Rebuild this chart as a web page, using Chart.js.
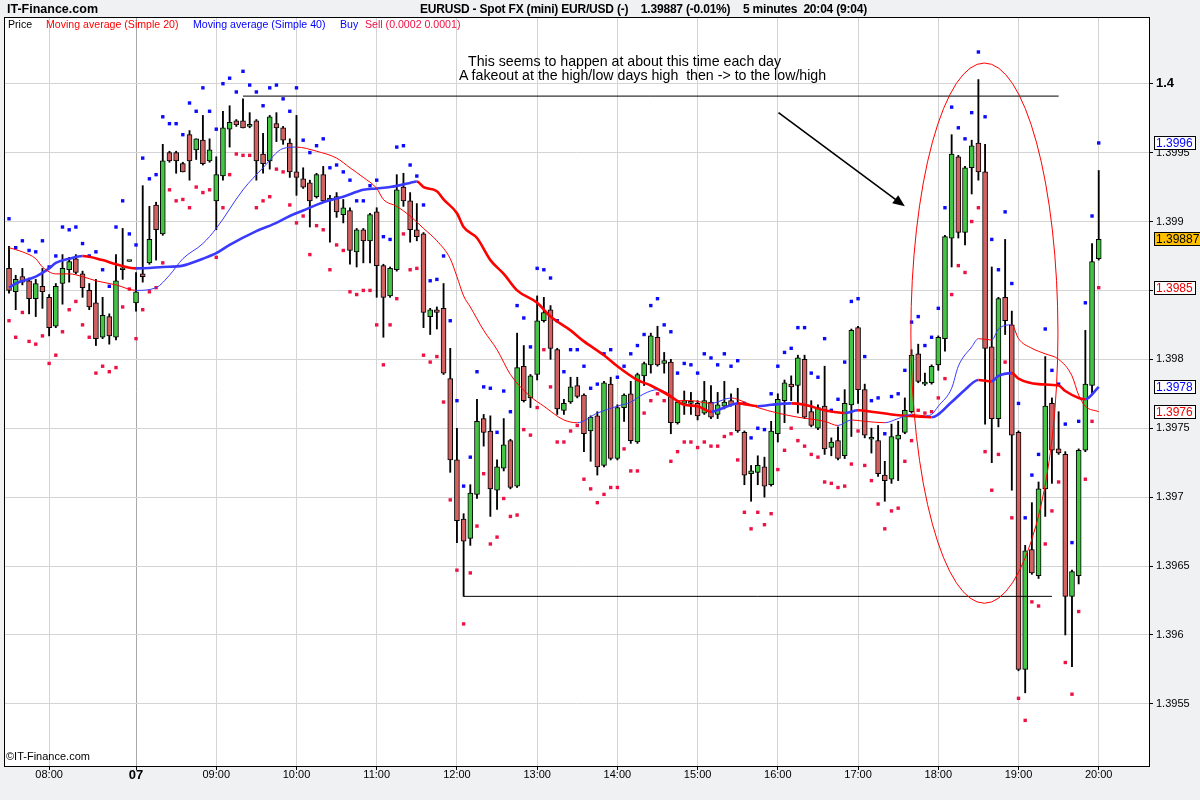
<!DOCTYPE html>
<html>
<head>
<meta charset="utf-8">
<script src="https://cdn.jsdelivr.net/npm/chart.js@4.4.1/dist/chart.umd.min.js"></script>
<style>
  body { margin: 0; background: #f0f1f3; width: 1200px; height: 800px; overflow: hidden; position: relative;
         font-family: "Liberation Sans", Arial, sans-serif; }
  #wrap { position: absolute; left: 0; top: 0; width: 1200px; height: 800px; }
  .t { position: absolute; white-space: pre; line-height: 1; }
  .lg { top: 19px; font-size: 10.6px; }
  .note { font-size: 14.2px; }
</style>
</head>
<body>
<div id="wrap"><canvas id="chart" width="1200" height="800"></canvas></div>

<div class="t" style="left:7px;top:3px;font-size:12.5px;font-weight:bold;">IT-Finance.com</div>
<div class="t" style="left:420px;top:3px;font-size:12px;font-weight:bold;letter-spacing:-0.2px;">EURUSD - Spot FX (mini) EUR/USD (-)    1.39887 (-0.01%)    5 minutes  20:04 (9:04)</div>

<div class="t lg" style="left:8px;color:#000;">Price</div>
<div class="t lg" style="left:46px;color:#ff0000;">Moving average (Simple 20)</div>
<div class="t lg" style="left:193px;color:#0000ff;">Moving average (Simple 40)</div>
<div class="t lg" style="left:340px;color:#0000ff;">Buy</div>
<div class="t lg" style="left:365px;color:#ee1144;">Sell (0.0002 0.0001)</div>

<div class="t note" style="left:468px;top:54px;">This seems to happen at about this time each day</div>
<div class="t note" style="left:459px;top:68px;">A fakeout at the high/low days high  then -&gt; to the low/high</div>

<div class="t" style="left:6px;top:751px;font-size:11px;">©IT-Finance.com</div>

<script>
// 5 minute bars, EUR/USD
var opens = [1.39866,1.39849,1.39860,1.39857,1.39844,1.39853,1.39845,1.39824,1.39855,1.39865,
  1.39873,1.39862,1.39850,1.39841,1.39816,1.39831,1.39816,1.39865,1.39871,1.39841,
  1.39862,1.39870,1.39912,1.39891,1.39950,1.39950,1.39942,1.39963,1.39952,1.39959,
  1.39944,1.39915,1.39933,1.39967,1.39973,1.39973,1.39969,1.39973,1.39949,1.39944,
  1.39971,1.39968,1.39957,1.39936,1.39931,1.39928,1.39918,1.39934,1.39915,1.39918,
  1.39905,1.39908,1.39878,1.39894,1.39886,1.39907,1.39868,1.39846,1.39865,1.39925,
  1.39915,1.39894,1.39891,1.39831,1.39836,1.39837,1.39786,1.39727,1.39684,1.39670,
  1.39702,1.39757,1.39748,1.39705,1.39721,1.39741,1.39708,1.39795,1.39772,1.39789,
  1.39828,1.39836,1.39807,1.39763,1.39769,1.39781,1.39774,1.39748,1.39759,1.39723,
  1.39782,1.39728,1.39765,1.39775,1.39740,1.39788,1.39796,1.39816,1.39797,1.39798,
  1.39754,1.39768,1.39768,1.39768,1.39761,1.39769,1.39760,1.39766,1.39770,1.39768,
  1.39747,1.39717,1.39718,1.39722,1.39709,1.39746,1.39770,1.39782,1.39781,1.39800,
  1.39762,1.39750,1.39766,1.39736,1.39741,1.39730,1.39767,1.39823,1.39778,1.39742,
  1.39741,1.39716,1.39713,1.39742,1.39747,1.39762,1.39804,1.39782,1.39783,1.39796,
  1.39815,1.39888,1.39947,1.39892,1.39939,1.39957,1.39936,1.39809,1.39757,1.39845,
  1.39825,1.39747,1.39575,1.39662,1.39643,1.39706,1.39768,1.39735,1.39731,1.39628,
  1.39643,1.39734,1.39781,1.39873];
var highs = [1.39882,1.39861,1.39866,1.39859,1.39858,1.39866,1.39847,1.39855,1.39876,1.39874,
  1.39876,1.39864,1.39855,1.39858,1.39845,1.39833,1.39876,1.39895,1.39871,1.39863,
  1.39926,1.39911,1.39914,1.39956,1.39951,1.39951,1.39943,1.39966,1.39960,1.39977,
  1.39960,1.39947,1.39980,1.39984,1.39974,1.39989,1.39979,1.39974,1.39964,1.39977,
  1.39979,1.39969,1.39960,1.39977,1.39939,1.39930,1.39935,1.39940,1.39919,1.39921,
  1.39916,1.39910,1.39895,1.39895,1.39906,1.39910,1.39869,1.39867,1.39934,1.39935,
  1.39921,1.39913,1.39892,1.39837,1.39838,1.39855,1.39808,1.39750,1.39688,1.39709,
  1.39771,1.39760,1.39759,1.39727,1.39757,1.39742,1.39819,1.39810,1.39789,1.39846,
  1.39845,1.39839,1.39808,1.39771,1.39787,1.39787,1.39775,1.39759,1.39762,1.39784,
  1.39787,1.39767,1.39775,1.39784,1.39790,1.39798,1.39819,1.39824,1.39805,1.39800,
  1.39770,1.39777,1.39776,1.39770,1.39784,1.39781,1.39776,1.39784,1.39775,1.39779,
  1.39748,1.39723,1.39730,1.39729,1.39755,1.39775,1.39785,1.39788,1.39803,1.39803,
  1.39770,1.39767,1.39795,1.39743,1.39751,1.39778,1.39822,1.39824,1.39782,1.39750,
  1.39752,1.39726,1.39753,1.39755,1.39772,1.39807,1.39811,1.39790,1.39796,1.39817,
  1.39890,1.39963,1.39948,1.39940,1.39959,1.40003,1.39956,1.39867,1.39845,1.39887,
  1.39835,1.39748,1.39665,1.39696,1.39711,1.39802,1.39772,1.39762,1.39733,1.39647,
  1.39735,1.39821,1.39884,1.39937];
var lows = [1.39848,1.39836,1.39854,1.39833,1.39831,1.39837,1.39817,1.39823,1.39840,1.39856,
  1.39862,1.39845,1.39836,1.39810,1.39815,1.39811,1.39814,1.39858,1.39871,1.39835,
  1.39856,1.39869,1.39872,1.39890,1.39943,1.39935,1.39936,1.39930,1.39945,1.39941,
  1.39943,1.39894,1.39930,1.39954,1.39969,1.39968,1.39968,1.39930,1.39935,1.39938,
  1.39958,1.39956,1.39932,1.39919,1.39924,1.39896,1.39917,1.39914,1.39885,1.39903,
  1.39899,1.39869,1.39867,1.39870,1.39870,1.39845,1.39816,1.39845,1.39864,1.39911,
  1.39885,1.39886,1.39823,1.39818,1.39822,1.39789,1.39718,1.39667,1.39628,1.39665,
  1.39699,1.39737,1.39686,1.39691,1.39719,1.39706,1.39707,1.39769,1.39765,1.39785,
  1.39827,1.39800,1.39760,1.39760,1.39768,1.39772,1.39733,1.39726,1.39716,1.39722,
  1.39727,1.39727,1.39755,1.39739,1.39739,1.39781,1.39790,1.39795,1.39790,1.39746,
  1.39753,1.39760,1.39760,1.39756,1.39760,1.39757,1.39757,1.39764,1.39766,1.39747,
  1.39709,1.39697,1.39709,1.39700,1.39708,1.39740,1.39754,1.39770,1.39761,1.39757,
  1.39751,1.39749,1.39731,1.39730,1.39727,1.39728,1.39744,1.39768,1.39743,1.39732,
  1.39715,1.39697,1.39710,1.39712,1.39746,1.39761,1.39783,1.39781,1.39782,1.39792,
  1.39806,1.39867,1.39888,1.39883,1.39920,1.39930,1.39753,1.39725,1.39751,1.39818,
  1.39705,1.39574,1.39558,1.39644,1.39641,1.39686,1.39710,1.39731,1.39600,1.39577,
  1.39637,1.39733,1.39775,1.39872];
var closes = [1.39850,1.39858,1.39856,1.39844,1.39855,1.39849,1.39823,1.39853,1.39866,1.39871,
  1.39863,1.39852,1.39838,1.39815,1.39832,1.39817,1.39857,1.39866,1.39871,1.39849,
  1.39860,1.39887,1.39894,1.39944,1.39944,1.39944,1.39936,1.39944,1.39960,1.39942,
  1.39952,1.39934,1.39968,1.39972,1.39970,1.39968,1.39970,1.39944,1.39942,1.39976,
  1.39968,1.39959,1.39936,1.39932,1.39925,1.39915,1.39934,1.39915,1.39917,1.39907,
  1.39910,1.39879,1.39894,1.39886,1.39905,1.39868,1.39845,1.39866,1.39923,1.39915,
  1.39894,1.39889,1.39834,1.39836,1.39834,1.39790,1.39727,1.39683,1.39668,1.39703,
  1.39755,1.39747,1.39706,1.39722,1.39738,1.39707,1.39794,1.39770,1.39788,1.39828,
  1.39834,1.39808,1.39764,1.39768,1.39780,1.39773,1.39746,1.39758,1.39722,1.39783,
  1.39728,1.39765,1.39774,1.39741,1.39789,1.39797,1.39817,1.39796,1.39799,1.39754,
  1.39769,1.39770,1.39769,1.39759,1.39770,1.39758,1.39767,1.39769,1.39767,1.39748,
  1.39716,1.39719,1.39723,1.39708,1.39748,1.39771,1.39783,1.39780,1.39801,1.39758,
  1.39752,1.39765,1.39735,1.39740,1.39728,1.39768,1.39821,1.39778,1.39745,1.39742,
  1.39717,1.39712,1.39744,1.39745,1.39763,1.39803,1.39784,1.39783,1.39795,1.39816,
  1.39889,1.39949,1.39892,1.39939,1.39955,1.39936,1.39808,1.39757,1.39844,1.39828,
  1.39745,1.39575,1.39661,1.39645,1.39706,1.39766,1.39734,1.39732,1.39628,1.39646,
  1.39734,1.39782,1.39871,1.39887];

// moving averages, read at these bar indexes
var ma20Idx = [0,2,4,5,7,9,11,13,16,19,22,24,26,29,31,35,38,41,43,46,49,51,53,55,56,58,60,62,64,66,
  67,68,69,71,73,75,78,80,83,85,88,91,93,95,97,99,100,102,105,108,110,112,115,118,122,124,126,128,131,133,
  135,137,138,139,141,142,144,145,147,148,150,151,153,155,157,159,160,161,163];
var ma20 = [1.39881,1.39878,1.39873,1.39867,1.39862,1.39862,1.39860,1.39857,1.39854,1.39850,
  1.39852,1.39861,1.39873,1.39884,1.39895,1.39923,1.39939,1.39953,1.39954,1.39951,
  1.39946,1.39939,1.39932,1.39924,1.39916,1.39911,1.39904,1.39895,1.39886,1.39873,
  1.39860,1.39846,1.39838,1.39821,1.39807,1.39789,1.39773,1.39766,1.39756,1.39754,
  1.39761,1.39766,1.39769,1.39775,1.39778,1.39774,1.39770,1.39770,1.39768,1.39772,
  1.39769,1.39765,1.39761,1.39758,1.39755,1.39752,1.39756,1.39755,1.39754,1.39757,
  1.39760,1.39759,1.39760,1.39766,1.39779,1.39795,1.39809,1.39815,1.39814,1.39822,
  1.39825,1.39815,1.39808,1.39804,1.39800,1.39788,1.39774,1.39766,1.39762];
var ma40Idx = [0,1,4,6,7,9,11,14,16,19,23,26,29,31,33,37,40,42,44,47,50,53,55,57,60,61,62,64,65,67,
  68,70,72,74,76,79,81,84,86,89,91,94,96,99,101,103,105,107,109,112,114,117,119,122,125,127,129,132,134,138,
  141,143,145,147,148,150,151,154,157,158,160,161,163];
var ma40 = [1.39852,1.39855,1.39860,1.39866,1.39870,1.39873,1.39875,1.39872,1.39869,1.39866,
  1.39867,1.39868,1.39873,1.39877,1.39883,1.39893,1.39899,1.39904,1.39908,1.39914,
  1.39918,1.39923,1.39924,1.39925,1.39928,1.39929,1.39925,1.39922,1.39916,1.39906,
  1.39896,1.39888,1.39872,1.39862,1.39850,1.39841,1.39831,1.39821,1.39813,1.39803,
  1.39795,1.39785,1.39781,1.39773,1.39767,1.39766,1.39762,1.39765,1.39768,1.39766,
  1.39767,1.39768,1.39767,1.39763,1.39761,1.39763,1.39762,1.39760,1.39759,1.39758,
  1.39769,1.39778,1.39785,1.39784,1.39788,1.39790,1.39786,1.39782,1.39781,1.39777,
  1.39772,1.39771,1.39780];

// Buy Sell indicator offsets
var buyOffset = 0.0002;
var sellOffset = 0.0002;

var tickIdx = [6,19,31,43,55,67,79,91,103,115,127,139,151,163];
var tickLabels = ['08:00','07','09:00','10:00','11:00','12:00','13:00','14:00','15:00','16:00','17:00','18:00','19:00','20:00'];
var priceTicks = [1.3955,1.396,1.3965,1.397,1.3975,1.398,1.3985,1.399,1.3995,1.4];

// hand drawn notes
var highLevel = [1.39991, 35, 157];
var lowLevel = [1.39628, 68, 156];
var arrowFrom = [115.1, 1.39979];
var arrowTo = [134.0, 1.39911];
var ringCenter = [145.9, 1.39819];
var ringRadius = [11.0, 0.00196];

var GREEN = '#44c444', BROWN = '#d26262', BLUE = '#3a3aff', RED = '#ff0000';

var buys = highs.map(function (h) { return h + buyOffset; });
var sells = lows.map(function (l) { return l - sellOffset; });

function slopeColor(ctx) {
  return ctx.p1.parsed.y > ctx.p0.parsed.y ? BLUE : RED;
}

var frame = {
  id: 'frame',
  beforeDraw: function (chart) {
    var a = chart.chartArea, c = chart.ctx;
    c.save();
    c.fillStyle = '#fff';
    c.fillRect(a.left, a.top, a.right - a.left, a.bottom - a.top);
    c.restore();
  },
  afterDatasetsDraw: function (chart) {
    var c = chart.ctx, xs = chart.scales.x, ys = chart.scales.y;
    c.save();
    // ellipse
    var cx = xs.getPixelForValue(ringCenter[0]), cy = ys.getPixelForValue(ringCenter[1]);
    var rx = xs.getPixelForValue(ringCenter[0] + ringRadius[0]) - cx;
    var ry = cy - ys.getPixelForValue(ringCenter[1] + ringRadius[1]);
    c.strokeStyle = '#ff0000';
    c.lineWidth = 1;
    c.beginPath();
    c.ellipse(cx, cy, rx, ry, 0, 0, Math.PI * 2);
    c.stroke();
    // arrow
    var x0 = xs.getPixelForValue(arrowFrom[0]), y0 = ys.getPixelForValue(arrowFrom[1]);
    var x1 = xs.getPixelForValue(arrowTo[0]), y1 = ys.getPixelForValue(arrowTo[1]);
    var ang = Math.atan2(y1 - y0, x1 - x0);
    c.strokeStyle = '#000';
    c.lineWidth = 1.6;
    c.beginPath();
    c.moveTo(x0, y0);
    c.lineTo(x1 - 8 * Math.cos(ang), y1 - 8 * Math.sin(ang));
    c.stroke();
    c.fillStyle = '#000';
    c.beginPath();
    c.moveTo(x1, y1);
    c.lineTo(x1 - 12 * Math.cos(ang) + 5 * Math.sin(ang), y1 - 12 * Math.sin(ang) - 5 * Math.cos(ang));
    c.lineTo(x1 - 12 * Math.cos(ang) - 5 * Math.sin(ang), y1 - 12 * Math.sin(ang) + 5 * Math.cos(ang));
    c.closePath();
    c.fill();
    c.restore();
  },
  afterDraw: function (chart) {
    var a = chart.chartArea, c = chart.ctx, ys = chart.scales.y;
    c.save();
    c.strokeStyle = '#000';
    c.lineWidth = 1;
    c.strokeRect(Math.round(a.left) + 0.5, Math.round(a.top) + 0.5, a.right - a.left, a.bottom - a.top);
    var last = closes.length - 1;
    var boxes = [
      [buys[last], buys[last].toFixed(4), '#0000ff', '#fff'],
      [closes[last], closes[last].toFixed(5), '#000', '#ffc000'],
      [sells[last], sells[last].toFixed(4), '#ee0000', '#fff'],
      [ma40[ma40.length - 1], ma40[ma40.length - 1].toFixed(4), '#0000ff', '#fff'],
      [ma20[ma20.length - 1], ma20[ma20.length - 1].toFixed(4), '#ee0000', '#fff']
    ];
    c.font = '12px "Liberation Sans", Arial, sans-serif';
    c.textBaseline = 'middle';
    boxes.forEach(function (b) {
      var y = Math.round(ys.getPixelForValue(b[0]));
      var w = Math.ceil(c.measureText(b[1]).width) + 4;
      var x = Math.round(a.right) + 5;
      c.fillStyle = b[3];
      c.fillRect(x, y - 7, w, 14);
      c.strokeRect(x + 0.5, y - 6.5, w, 13);
      c.fillStyle = b[2];
      c.fillText(b[1], x + 2, y + 0.5);
    });
    c.restore();
  }
};

var ctx = document.getElementById('chart').getContext('2d');
window.fxChart = new Chart(ctx, {
  type: 'line',
  data: {
    datasets: [
      {
        type: 'line', label: 'Simple 20', order: 0,
        data: ma20Idx.map(function (x, k) { return { x: x, y: ma20[k] }; }),
        borderWidth: 1, pointRadius: 0, cubicInterpolationMode: 'monotone',
        borderColor: RED, segment: { borderColor: slopeColor }
      },
      {
        type: 'line', label: 'Simple 40', order: 0,
        data: ma40Idx.map(function (x, k) { return { x: x, y: ma40[k] }; }),
        borderWidth: 2.6, pointRadius: 0, cubicInterpolationMode: 'monotone',
        borderColor: BLUE, segment: { borderColor: slopeColor }
      },
      {
        type: 'line', label: 'high', order: 0, borderColor: '#000', borderWidth: 1, pointRadius: 0,
        data: [{ x: highLevel[1], y: highLevel[0] }, { x: highLevel[2], y: highLevel[0] }]
      },
      {
        type: 'line', label: 'low', order: 0, borderColor: '#000', borderWidth: 1, pointRadius: 0,
        data: [{ x: lowLevel[1], y: lowLevel[0] }, { x: lowLevel[2], y: lowLevel[0] }]
      },
      {
        type: 'line', label: 'Buy', order: 1, showLine: false,
        data: buys.map(function (v, i) { return { x: i, y: v }; }),
        pointStyle: 'rect', pointRadius: 2.4, pointBorderWidth: 0, pointBackgroundColor: '#0a0aff'
      },
      {
        type: 'line', label: 'Sell', order: 1, showLine: false,
        data: sells.map(function (v, i) { return { x: i, y: v }; }),
        pointStyle: 'rect', pointRadius: 2.4, pointBorderWidth: 0, pointBackgroundColor: '#ee1144'
      },
      {
        type: 'bar', label: 'body', order: 2, grouped: false,
        data: opens.map(function (o, i) { return { x: i, y: [o, closes[i]] }; }),
        backgroundColor: opens.map(function (o, i) { return closes[i] >= o ? GREEN : BROWN; }),
        borderColor: '#000', borderWidth: 1, borderSkipped: false,
        barThickness: 5, minBarLength: 2
      },
      {
        type: 'bar', label: 'wick', order: 3, grouped: false,
        data: lows.map(function (l, i) { return { x: i, y: [l, highs[i]] }; }),
        backgroundColor: '#000', borderWidth: 0, barThickness: 1.2
      }
    ]
  },
  options: {
    responsive: false,
    animation: false,
    devicePixelRatio: 1,
    layout: { padding: { left: 3, top: 17, right: 0, bottom: 0 } },
    plugins: { legend: { display: false }, tooltip: { enabled: false } },
    scales: {
      x: {
        type: 'linear', min: -0.75, max: 170.52, offset: false,
        afterFit: function (s) { s.height = 34; },
        afterBuildTicks: function (s) { s.ticks = tickIdx.map(function (v) { return { value: v }; }); },
        grid: {
          offset: false, drawTicks: true, tickLength: 4, tickColor: '#000',
          color: function (c) { return c.tick && c.tick.value === 19 ? '#a8a8a8' : '#d4d4d4'; }
        },
        border: { color: '#000' },
        ticks: {
          autoSkip: false, maxRotation: 0, padding: -2, color: '#000',
          font: function (c) {
            return c.tick && c.tick.value === 19
              ? { family: '"Liberation Sans", Arial', size: 13, weight: 'bold' }
              : { family: '"Liberation Sans", Arial', size: 11 };
          },
          callback: function (v) { var k = tickIdx.indexOf(v); return k < 0 ? '' : tickLabels[k]; }
        }
      },
      y: {
        type: 'linear', position: 'right', min: 1.395049, max: 1.400484,
        afterFit: function (s) { s.width = 51; },
        afterBuildTicks: function (s) { s.ticks = priceTicks.map(function (v) { return { value: v }; }); },
        grid: { drawTicks: true, tickLength: 4, tickColor: '#000', color: '#d4d4d4' },
        border: { color: '#000' },
        ticks: {
          autoSkip: false, padding: 3, color: '#000',
          font: function (c) {
            return c.tick && c.tick.value === 1.4
              ? { family: '"Liberation Sans", Arial', size: 13, weight: 'bold' }
              : { family: '"Liberation Sans", Arial', size: 11 };
          },
          callback: function (v) { return String(Number(v.toFixed(4))); }
        }
      }
    }
  },
  plugins: [frame]
});
</script>
</body>
</html>
